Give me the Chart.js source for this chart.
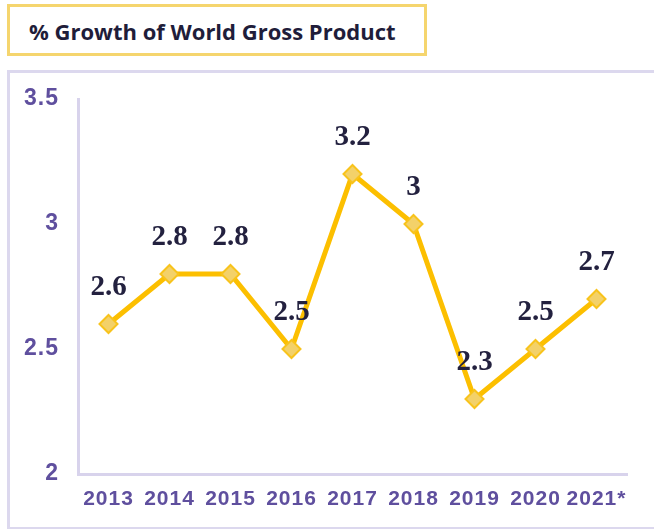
<!DOCTYPE html>
<html>
<head>
<meta charset="utf-8">
<script src="https://cdn.jsdelivr.net/npm/chart.js@4"></script>
<style>
  html, body { margin: 0; padding: 0; background: #fff; overflow: hidden; }
  body { width: 654px; height: 529px; position: relative; }
  #title {
    position: absolute; left: 7px; top: 4px; height: 46px; width: 395px;
    border: 3px solid #f5d56e;
    font: bold 22px "Open Sans", "Noto Sans", sans-serif; color: #1f1d3a;
    line-height: 48px; padding-left: 19px;
  }
  #box {
    position: absolute; left: 7px; top: 70px; width: 670px; height: 454px;
    border: 3px solid #dcd8ee;
  }
  #wrap { position: absolute; left: 0; top: 0; width: 654px; height: 529px; }
</style>
</head>
<body>
<div id="title">% Growth of World Gross Product</div>
<div id="box"></div>
<div id="wrap"><canvas id="growthChart"></canvas></div>
<script>
const years = ['2013', '2014', '2015', '2016', '2017', '2018', '2019', '2020', '2021*'];
const growth = [2.6, 2.8, 2.8, 2.5, 3.2, 3, 2.3, 2.5, 2.7];
const yTicks = [2, 2.5, 3, 3.5];

const tickColor = '#5f4f9e';
const axisColor = '#d8d3ec';

// draws the value above each point
const valueLabels = {
    id: 'valueLabels',
    afterDatasetsDraw(chart) {
        const ctx = chart.ctx;
        const meta = chart.getDatasetMeta(0);
        ctx.save();
        ctx.font = 'bold 29px "Liberation Serif", "DejaVu Serif", serif';
        ctx.fillStyle = '#23213f';
        ctx.textAlign = 'center';
        ctx.textBaseline = 'middle';
        meta.data.forEach((pt, i) => {
            ctx.fillText(String(growth[i]), pt.x, pt.y - 36);
        });
        ctx.restore();
    }
};

// a bit of letter spacing for the axis labels
const spacing = {
    id: 'spacing',
    beforeDraw(chart) { chart.ctx.letterSpacing = '1px'; },
    beforeDatasetsDraw(chart) { chart.ctx.letterSpacing = '0px'; }
};

const ctxGrowth = document.getElementById('growthChart').getContext('2d');
const growthChart = new Chart(ctxGrowth, {
    type: 'line',
    data: {
        labels: years,
        datasets: [{
            label: '% Growth',
            data: growth,
            borderColor: '#fcbf00',
            borderWidth: 5,
            pointStyle: 'rectRot',
            pointRadius: 9,
            pointBackgroundColor: '#f3d169',
            pointBorderColor: '#f8c31c',
            pointBorderWidth: 2,
            tension: 0
        }]
    },
    plugins: [spacing, valueLabels],
    options: {
        responsive: true,
        maintainAspectRatio: false,
        animation: false,
        layout: { padding: { left: 0, top: 99, right: 27, bottom: 0 } },
        plugins: {
            legend: { display: false },
            tooltip: { enabled: false }
        },
        scales: {
            x: {
                offset: true,
                grid: { display: false, drawTicks: false },
                border: { color: axisColor, width: 3 },
                ticks: {
                    color: tickColor,
                    font: { family: '"Liberation Sans", Arial, sans-serif', size: 21, weight: 'bold' },
                    padding: 13,
                    maxRotation: 0,
                    autoSkip: false
                },
                afterFit(scale) { scale.height = 55; }
            },
            y: {
                min: 2,
                max: 3.5,
                grid: { display: false, drawTicks: false },
                border: { color: axisColor, width: 3 },
                afterBuildTicks(scale) { scale.ticks = yTicks.map(v => ({ value: v })); },
                ticks: {
                    color: tickColor,
                    font: { family: '"Liberation Sans", Arial, sans-serif', size: 23, weight: 'bold' },
                    padding: 19,
                    callback: (v) => String(v)
                },
                afterFit(scale) { scale.width = 78; }
            }
        }
    }
});
</script>
</body>
</html>
